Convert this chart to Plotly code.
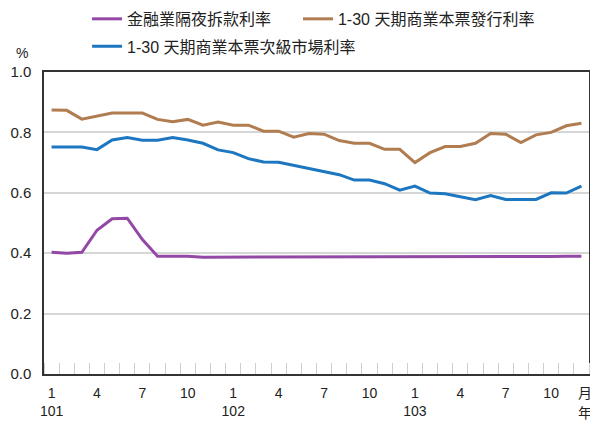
import plotly.graph_objects as go

# ---- data ----
months = [f"{y}/{m}" for y in (101, 102, 103) for m in range(1, 13)]
month_ticks = [0, 3, 6, 9, 12, 15, 18, 21, 24, 27, 30, 33]
month_text = ["1", "4", "7", "10"] * 3
year_ticks = [0, 12, 24]
year_text = ["101", "102", "103"]

overnight = [0.403, 0.400, 0.403, 0.476, 0.514, 0.516, 0.445, 0.390, 0.390, 0.390,
             0.387, 0.387, 0.388, 0.388, 0.389, 0.389, 0.387, 0.387, 0.387, 0.387,
             0.387, 0.387, 0.387, 0.387, 0.387, 0.387, 0.388, 0.388, 0.388, 0.388,
             0.389, 0.389, 0.389, 0.389, 0.390, 0.390]
cp_issue = [0.874, 0.873, 0.844, 0.855, 0.864, 0.864, 0.864, 0.843, 0.835, 0.843,
            0.824, 0.834, 0.824, 0.824, 0.804, 0.804, 0.784, 0.796, 0.794, 0.773,
            0.764, 0.764, 0.744, 0.744, 0.700, 0.733, 0.753, 0.753, 0.764, 0.796,
            0.794, 0.766, 0.792, 0.800, 0.822, 0.830]
cp_secondary = [0.752, 0.752, 0.752, 0.743, 0.775, 0.783, 0.774, 0.774, 0.783, 0.775,
                0.764, 0.742, 0.733, 0.713, 0.702, 0.701, 0.691, 0.681, 0.670, 0.660,
                0.642, 0.642, 0.630, 0.609, 0.622, 0.599, 0.597, 0.587, 0.577, 0.591,
                0.578, 0.578, 0.578, 0.600, 0.599, 0.622]

names = ["金融業隔夜拆款利率", "1-30 天期商業本票發行利率", "1-30 天期商業本票次級市場利率"]
colors = ["#9348a6", "#b07c50", "#1c76c0"]

FONT = "Liberation Sans, Arial, 'Noto Sans CJK TC', sans-serif"
x = list(range(len(months)))

fig = go.Figure()
fig.add_trace(go.Scatter(x=x, y=overnight, name=names[0], mode="lines",
                         line=dict(color=colors[0], width=3), legend="legend"))
fig.add_trace(go.Scatter(x=x, y=cp_issue, name=names[1], mode="lines",
                         line=dict(color=colors[1], width=3), legend="legend3"))
fig.add_trace(go.Scatter(x=x, y=cp_secondary, name=names[2], mode="lines",
                         line=dict(color=colors[2], width=3), legend="legend2"))
# invisible trace so that the year axis is drawn
fig.add_trace(go.Scatter(x=x, y=cp_secondary, xaxis="x2", mode="lines",
                         line=dict(width=0), opacity=0, showlegend=False,
                         hoverinfo="skip"))

LEG_FONT = dict(family=FONT, size=16, color="#222")

# the page body adds an 8px margin, so the figure is 8px smaller on each side
fig.update_layout(
    width=590, height=413,
    margin=dict(l=36, r=9, t=64, b=47, autoexpand=False),
    paper_bgcolor="white", plot_bgcolor="white",
    font=dict(family=FONT, size=14, color="#222"),
    showlegend=True,
    legend=dict(orientation="h", x=0.079, xanchor="left", y=1.232, yanchor="top",
                font=LEG_FONT, bgcolor="rgba(0,0,0,0)"),
    legend3=dict(orientation="h", x=0.466, xanchor="left", y=1.232, yanchor="top",
                 font=LEG_FONT, bgcolor="rgba(0,0,0,0)"),
    legend2=dict(orientation="h", x=0.079, xanchor="left", y=1.141, yanchor="top",
                 font=LEG_FONT, bgcolor="rgba(0,0,0,0)"),
    xaxis=dict(range=[-0.5, len(months) - 0.5], tickmode="array",
               tickvals=month_ticks, ticktext=month_text, ticks="",
               showgrid=False, zeroline=False,
               showline=True, linecolor="#333", linewidth=1.5, mirror=True,
               ticklabelstandoff=5,
               minor=dict(ticks="inside", tick0=0.5, dtick=1, ticklen=11,
                          tickcolor="#cfcfcf", tickwidth=1, showgrid=False)),
    xaxis2=dict(range=[-0.5, len(months) - 0.5], overlaying="x", anchor="y",
                side="bottom", tickmode="array", tickvals=year_ticks,
                ticktext=year_text, ticks="", showgrid=False, zeroline=False,
                showline=False, ticklabelstandoff=27),
    yaxis=dict(range=[0, 1.0], tickmode="array", tickvals=[0, 0.2, 0.4, 0.6, 0.8, 1.0],
               tickformat=".1f", ticks="", showgrid=True, gridcolor="#d6d6d6",
               gridwidth=1.5, zeroline=False,
               showline=True, linecolor="#333", linewidth=1.5, mirror=True,
               ticklabelstandoff=8, tickfont=dict(size=15)),
    annotations=[
        dict(text="%", xref="paper", yref="paper", x=-0.040, y=1.063,
             xanchor="center", yanchor="middle",
             showarrow=False, font=dict(size=14, color="#222")),
        dict(text="月", xref="paper", yref="paper", x=1, xshift=-4, y=0,
             xanchor="center", yanchor="top", yshift=-9, showarrow=False,
             font=dict(size=14, color="#222")),
        dict(text="年", xref="paper", yref="paper", x=1, xshift=-4, y=0,
             xanchor="center", yanchor="top", yshift=-29, showarrow=False,
             font=dict(size=14, color="#222")),
    ],
)

fig.write_html("out.html")
